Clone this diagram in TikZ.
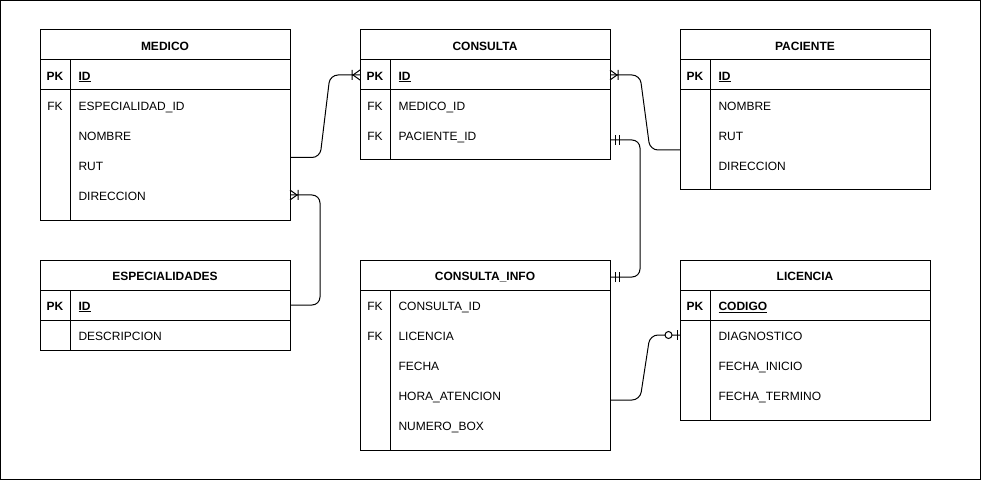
\documentclass[tikz,border=0pt]{standalone}
\usepackage{fontspec}
\setmainfont{Liberation Sans}

% crow's foot ends for the relations
\pgfdeclarearrow{
  name = ERmany,
  setup code = {
    \pgfarrowssettipend{0pt}
    \pgfarrowssetlineend{0pt}
    \pgfarrowssetbackend{-9pt}
    \pgfarrowshullpoint{0pt}{5pt}
    \pgfarrowshullpoint{0pt}{-5pt}
    \pgfarrowshullpoint{-9pt}{5pt}
    \pgfarrowshullpoint{-9pt}{-5pt}
  },
  drawing code = {
    \pgfsetdash{}{0pt}
    \pgfpathmoveto{\pgfqpoint{0pt}{5pt}}
    \pgfpathlineto{\pgfqpoint{-7pt}{0pt}}
    \pgfpathlineto{\pgfqpoint{0pt}{-5pt}}
    \pgfpathmoveto{\pgfqpoint{-8pt}{5pt}}
    \pgfpathlineto{\pgfqpoint{-8pt}{-5pt}}
    \pgfusepathqstroke
  }
}
\pgfdeclarearrow{
  name = ERone,
  setup code = {
    \pgfarrowssettipend{0pt}
    \pgfarrowssetlineend{0pt}
    \pgfarrowssetbackend{-10pt}
    \pgfarrowshullpoint{0pt}{5pt}
    \pgfarrowshullpoint{0pt}{-5pt}
    \pgfarrowshullpoint{-10pt}{5pt}
    \pgfarrowshullpoint{-10pt}{-5pt}
  },
  drawing code = {
    \pgfsetdash{}{0pt}
    \pgfpathmoveto{\pgfqpoint{-5pt}{5pt}}
    \pgfpathlineto{\pgfqpoint{-5pt}{-5pt}}
    \pgfpathmoveto{\pgfqpoint{-9pt}{5pt}}
    \pgfpathlineto{\pgfqpoint{-9pt}{-5pt}}
    \pgfusepathqstroke
  }
}
\pgfdeclarearrow{
  name = ERzeroone,
  setup code = {
    \pgfarrowssettipend{0pt}
    \pgfarrowssetlineend{0pt}
    \pgfarrowssetbackend{-16pt}
    \pgfarrowshullpoint{0pt}{5pt}
    \pgfarrowshullpoint{0pt}{-5pt}
    \pgfarrowshullpoint{-16pt}{5pt}
    \pgfarrowshullpoint{-16pt}{-5pt}
  },
  drawing code = {
    \pgfsetdash{}{0pt}
    \pgfpathmoveto{\pgfqpoint{-3pt}{5pt}}
    \pgfpathlineto{\pgfqpoint{-3pt}{-5pt}}
    \pgfusepathqstroke
    \pgfsetfillcolor{white}
    \pgfpathcircle{\pgfqpoint{-11.5pt}{0pt}}{3.5pt}
    \pgfusepathqfillstroke
  }
}

\begin{document}
\begin{tikzpicture}[x=1pt, y=-1pt, line width=1pt,
    tabletitle/.style={draw, anchor=north west, minimum width=250pt, minimum height=30pt, inner sep=0pt, outer sep=0pt, text height=10.4pt, text depth=0pt, font=\fontsize{12}{14}\selectfont\bfseries},
    tablerow/.style={draw, anchor=north west, minimum width=250pt, inner sep=0pt, outer sep=0pt},
    keycell/.style={anchor=center, inner sep=0pt, text height=10.4pt, text depth=0pt, font=\fontsize{12}{14}\selectfont},
    fieldcell/.style={anchor=west, inner sep=0pt, text height=10.4pt, text depth=0pt, font=\fontsize{12}{14}\selectfont},
    pk/.style={font=\fontsize{12}{14}\selectfont\bfseries},
    relation/.style={rounded corners=8pt}]

    \useasboundingbox (0,0) rectangle (982,481);
    \draw (0.5,0.5) rectangle (980.5,479.5);

    % Draw table MEDICO
    \node[tabletitle] (medico) at (40,30) {MEDICO};
    \node[tablerow, minimum height=30pt] (medico pk) at (medico.south west) {};
    \node[tablerow, minimum height=130pt] (medico body) at (medico pk.south west) {};
    \draw ([xshift=30pt]medico pk.north west) -- ([xshift=30pt]medico body.south west);
    \node[keycell, pk] (medico pk key) at (55,75) {PK};
    \node[fieldcell, pk] (medico id) at (78,75) {\underline{ID}};
    \node[keycell] (medico fk key) at (55,105) {FK};
    \node[fieldcell] (medico esp) at (78,105) {ESPECIALIDAD\_ID};
    \node[fieldcell] (medico nombre) at (78,135) {NOMBRE};
    \node[fieldcell] (medico rut) at (78,165) {RUT};
    \node[fieldcell] (medico dir) at (78,195) {DIRECCION};

    % Draw table CONSULTA
    \node[tabletitle] (consulta) at (360,30) {CONSULTA};
    \node[tablerow, minimum height=30pt] (consulta pk) at (consulta.south west) {};
    \node[tablerow, minimum height=70pt] (consulta body) at (consulta pk.south west) {};
    \draw ([xshift=30pt]consulta pk.north west) -- ([xshift=30pt]consulta body.south west);
    \node[keycell, pk] (consulta pk key) at (375,75) {PK};
    \node[fieldcell, pk] (consulta id) at (398,75) {\underline{ID}};
    \node[keycell] (consulta fk1) at (375,105) {FK};
    \node[fieldcell] (consulta medico) at (398,105) {MEDICO\_ID};
    \node[keycell] (consulta fk2) at (375,135) {FK};
    \node[fieldcell] (consulta paciente) at (398,135) {PACIENTE\_ID};

    % Draw table PACIENTE
    \node[tabletitle] (paciente) at (680,30) {PACIENTE};
    \node[tablerow, minimum height=30pt] (paciente pk) at (paciente.south west) {};
    \node[tablerow, minimum height=100pt] (paciente body) at (paciente pk.south west) {};
    \draw ([xshift=30pt]paciente pk.north west) -- ([xshift=30pt]paciente body.south west);
    \node[keycell, pk] (paciente pk key) at (695,75) {PK};
    \node[fieldcell, pk] (paciente id) at (718,75) {\underline{ID}};
    \node[fieldcell] (paciente nombre) at (718,105) {NOMBRE};
    \node[fieldcell] (paciente rut) at (718,135) {RUT};
    \node[fieldcell] (paciente dir) at (718,165) {DIRECCION};

    % Draw table ESPECIALIDADES
    \node[tabletitle] (especialidades) at (40,260) {ESPECIALIDADES};
    \node[tablerow, minimum height=30pt] (especialidades pk) at (especialidades.south west) {};
    \node[tablerow, minimum height=30pt] (especialidades body) at (especialidades pk.south west) {};
    \draw ([xshift=30pt]especialidades pk.north west) -- ([xshift=30pt]especialidades body.south west);
    \node[keycell, pk] (especialidades pk key) at (55,305) {PK};
    \node[fieldcell, pk] (especialidades id) at (78,305) {\underline{ID}};
    \node[fieldcell] (especialidades desc) at (78,335) {DESCRIPCION};

    % Draw table CONSULTA_INFO
    \node[tabletitle] (cinfo) at (360,260) {CONSULTA\_INFO};
    \node[tablerow, minimum height=160pt] (cinfo body) at (cinfo.south west) {};
    \draw ([xshift=30pt]cinfo body.north west) -- ([xshift=30pt]cinfo body.south west);
    \node[keycell] (cinfo fk1) at (375,305) {FK};
    \node[fieldcell] (cinfo consulta) at (398,305) {CONSULTA\_ID};
    \node[keycell] (cinfo fk2) at (375,335) {FK};
    \node[fieldcell] (cinfo licencia) at (398,335) {LICENCIA};
    \node[fieldcell] (cinfo fecha) at (398,365) {FECHA};
    \node[fieldcell] (cinfo hora) at (398,395) {HORA\_ATENCION};
    \node[fieldcell] (cinfo box) at (398,425) {NUMERO\_BOX};

    % Draw table LICENCIA
    \node[tabletitle] (licencia) at (680,260) {LICENCIA};
    \node[tablerow, minimum height=30pt] (licencia pk) at (licencia.south west) {};
    \node[tablerow, minimum height=100pt] (licencia body) at (licencia pk.south west) {};
    \draw ([xshift=30pt]licencia pk.north west) -- ([xshift=30pt]licencia body.south west);
    \node[keycell, pk] (licencia pk key) at (695,305) {PK};
    \node[fieldcell, pk] (licencia codigo) at (718,305) {\underline{CODIGO}};
    \node[fieldcell] (licencia diag) at (718,335) {DIAGNOSTICO};
    \node[fieldcell] (licencia inicio) at (718,365) {FECHA\_INICIO};
    \node[fieldcell] (licencia termino) at (718,395) {FECHA\_TERMINO};

    % Draw relations between the tables
    \draw[relation, -ERmany] ([yshift=-2.5pt]medico body.east) -- ++(30,0) -- (330,75) -- (consulta pk.west);
    \draw[relation, -ERmany] ([yshift=-10pt]paciente body.west) -- ++(-30,0) -- (640,75) -- (consulta pk.east);
    \draw[relation, ERone-ERone] ([yshift=-15pt]consulta body.east) -- ++(30,0) |- ([yshift=-2pt]cinfo.east);
    \draw[relation, -ERmany] (especialidades pk.east) -- ++(30,0) |- (medico body.east |- medico dir);
    \draw[relation, -ERzeroone] ([yshift=-30pt]cinfo body.east) -- ++(30,0) -- (650,335) -- (licencia body.west |- licencia diag);

\end{tikzpicture}
\end{document}
